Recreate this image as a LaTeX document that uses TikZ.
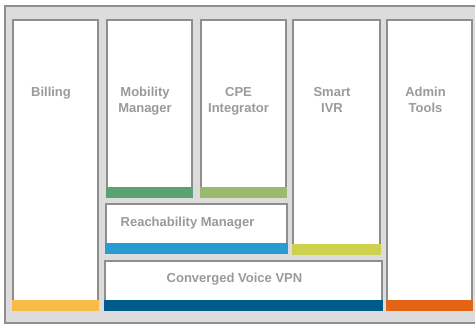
\documentclass[tikz,border=0pt]{standalone}
\usepackage{fontspec}
\setmainfont{Liberation Sans}
\usepackage{tikz}
\usetikzlibrary{positioning}
\usepackage{xcolor}

\definecolor{panelgray}{HTML}{DCDCDC}
\definecolor{edgegray}{HTML}{8E8E8E}
\definecolor{textgray}{HTML}{9A9A9A}
\definecolor{billingbar}{HTML}{F8BB48}
\definecolor{mobilitybar}{HTML}{5BA273}
\definecolor{cpebar}{HTML}{9BBA6D}
\definecolor{reachbar}{HTML}{279CD2}
\definecolor{ivrbar}{HTML}{CED150}
\definecolor{vpnbar}{HTML}{005A8C}
\definecolor{adminbar}{HTML}{E36414}

\begin{document}
\begin{tikzpicture}[
    x=1pt, y=-1pt,
    every node/.style={font=\fontsize{13}{16}\selectfont\bfseries, text=textgray},
    panel/.style={rectangle, draw=edgegray, line width=2pt, fill=panelgray, anchor=north west, inner sep=0pt},
    box/.style={rectangle, draw=edgegray, line width=2pt, fill=white, anchor=north west, inner sep=0pt},
    bar/.style={rectangle, anchor=south west, inner sep=0pt, outer sep=0pt, minimum height=11pt},
    label/.style={align=center, inner sep=0pt}
]
\useasboundingbox (0,0) rectangle (475,325);

% Background panel
\node[panel, minimum width=480pt, minimum height=317pt] (panel) at (4,5) {};

% Columns
\node[box, minimum width=85pt, minimum height=290pt] (billing) at (12,19) {};
\node[box, minimum width=85pt, minimum height=177pt] (mobility) at (106,19) {};
\node[box, minimum width=85pt, minimum height=177pt] (cpe) at (200,19) {};
\node[box, minimum width=87pt, minimum height=234pt] (ivr) at (292,19) {};
\node[box, minimum width=85pt, minimum height=290pt] (admin) at (386,19) {};

% Horizontal layers
\node[box, minimum width=181pt, minimum height=49pt] (reach) at (105,203) {};
\node[box, minimum width=277pt, minimum height=49pt] (vpn) at (104,260) {};

% Colour bars along the bottom edges
\node[bar, fill=billingbar, minimum width=87pt] (billingstrip) at (billing.south west) {};
\node[bar, fill=mobilitybar, minimum width=87pt] (mobilitystrip) at (mobility.south west) {};
\node[bar, fill=cpebar, minimum width=87pt] (cpestrip) at (cpe.south west) {};
\node[bar, fill=ivrbar, minimum width=89pt] (ivrstrip) at (ivr.south west) {};
\node[bar, fill=adminbar, minimum width=87pt] (adminstrip) at (admin.south west) {};
\node[bar, fill=reachbar, minimum width=183pt] (reachstrip) at (reach.south west) {};
\node[bar, fill=vpnbar, minimum width=279pt] (vpnstrip) at (vpn.south west) {};

% Labels
\node[label, below=68pt of billing.north, xshift=-4.5pt] (billingtext) {Billing};
\node[label, below=68pt of mobility.north, xshift=-4.5pt] (mobilitytext) {Mobility\\Manager};
\node[label, below=68pt of cpe.north, xshift=-5pt] (cpetext) {CPE\\Integrator};
\node[label, below=68pt of ivr.north, xshift=-4.5pt] (ivrtext) {Smart\\IVR};
\node[label, below=68pt of admin.north, xshift=-4pt] (admintext) {Admin\\Tools};
\node[label, below=13.5pt of reach.north, xshift=-9pt] (reachtext) {Reachability Manager};
\node[label, below=13pt of vpn.north, xshift=-9pt] (vpntext) {Converged Voice VPN};

\end{tikzpicture}
\end{document}
